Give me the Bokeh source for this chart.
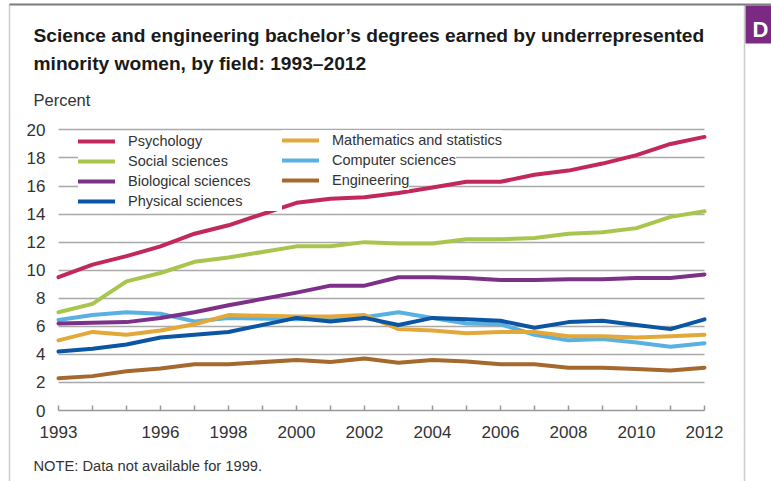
from bokeh.plotting import figure
from bokeh.models import Range1d, FixedTicker, Legend, LegendItem, Label, BoxAnnotation
from bokeh.embed import file_html
from bokeh.resources import INLINE

# ---------------- data ----------------
years = [1993, 1994, 1995, 1996, 1997, 1998,
         2000, 2001, 2002, 2003, 2004, 2005, 2006, 2007, 2008, 2009, 2010, 2011, 2012]
psychology = [9.5, 10.4, 11.0, 11.7, 12.6, 13.2,
              14.8, 15.1, 15.2, 15.5, 15.9, 16.3, 16.3, 16.8, 17.1, 17.6, 18.2, 19.0, 19.5]
social_sciences = [7.0, 7.6, 9.2, 9.8, 10.6, 10.9,
                   11.7, 11.7, 12.0, 11.9, 11.9, 12.2, 12.2, 12.3, 12.6, 12.7, 13.0, 13.8, 14.2]
biological_sciences = [6.2, 6.25, 6.3, 6.6, 7.0, 7.5,
                       8.4, 8.9, 8.9, 9.5, 9.5, 9.45, 9.3, 9.3, 9.35, 9.35, 9.45, 9.45, 9.7]
physical_sciences = [4.2, 4.4, 4.7, 5.2, 5.4, 5.6,
                     6.6, 6.35, 6.6, 6.1, 6.6, 6.5, 6.4, 5.9, 6.3, 6.4, 6.1, 5.8, 6.5]
math_statistics = [5.0, 5.6, 5.4, 5.7, 6.15, 6.8,
                   6.7, 6.7, 6.8, 5.8, 5.7, 5.5, 5.6, 5.6, 5.3, 5.3, 5.2, 5.3, 5.4]
computer_sciences = [6.45, 6.8, 7.0, 6.9, 6.35, 6.6,
                     6.5, 6.6, 6.65, 7.0, 6.6, 6.2, 6.15, 5.4, 5.0, 5.1, 4.85, 4.55, 4.8]
engineering = [2.3, 2.45, 2.8, 3.0, 3.3, 3.3,
               3.6, 3.45, 3.7, 3.4, 3.6, 3.5, 3.3, 3.3, 3.05, 3.05, 2.95, 2.85, 3.05]

tick_years = list(range(1993, 2013))
labeled_years = [1993, 1996, 1998, 2000, 2002, 2004, 2006, 2008, 2010, 2012]
y_ticks = [0, 2, 4, 6, 8, 10, 12, 14, 16, 18, 20]

title_lines = ["Science and engineering bachelor\u2019s degrees earned by underrepresented",
               "minority women, by field: 1993\u20132012"]
y_title = "Percent"
note = "NOTE: Data not available for 1999."
tab_letter = "D"

series = [
    ("Psychology", psychology, "#c3285a"),
    ("Social sciences", social_sciences, "#a8c64e"),
    ("Biological sciences", biological_sciences, "#7d3088"),
    ("Physical sciences", physical_sciences, "#0b56a4"),
    ("Mathematics and statistics", math_statistics, "#e2a83a"),
    ("Computer sciences", computer_sciences, "#58b1e2"),
    ("Engineering", engineering, "#a5692e"),
]

FONT = "Liberation Sans"

# ---------------- layout constants (pixels) ----------------
W, H = 771, 481
X0_PX, PX_PER_YEAR = 58, 34.0      # where 1993 sits, pixels per year
Y0_PX, PX_PER_UNIT = 410, 14.03    # where 0 % sits, pixels per percent

x_range = Range1d(tick_years[0] - X0_PX / PX_PER_YEAR,
                  tick_years[0] + (W - X0_PX) / PX_PER_YEAR)
y_range = Range1d(-(H - Y0_PX) / PX_PER_UNIT, Y0_PX / PX_PER_UNIT)

p = figure(width=W, height=H, x_range=x_range, y_range=y_range,
           output_backend="svg", toolbar_location=None,
           min_border_left=0, min_border_right=0, min_border_top=0, min_border_bottom=0)
p.outline_line_color = None
p.background_fill_color = "white"
p.border_fill_color = "white"


def fx(px):
    return px


def fy(py):
    return H - py


# grid
p.xgrid.visible = False
p.ygrid.ticker = FixedTicker(ticks=y_ticks[1:])
p.ygrid.grid_line_color = "#a9a9a9"
p.ygrid.grid_line_width = 1.5
if "cross_bounds" in p.ygrid.properties():
    p.ygrid.cross_bounds = (tick_years[0], tick_years[-1])

# axes
xa = p.xaxis[0]
xa.fixed_location = 0
xa.bounds = (tick_years[0], tick_years[-1])
xa.ticker = FixedTicker(ticks=tick_years)
xa.major_label_overrides = {yv: (str(yv) if yv in labeled_years else "") for yv in tick_years}
xa.axis_line_color = "#999999"
xa.axis_line_width = 1.5
xa.major_tick_line_color = "#999999"
xa.major_tick_line_width = 1.5
xa.major_tick_in = 5
xa.major_tick_out = 0
xa.minor_tick_line_color = None
xa.major_label_text_font = FONT
xa.major_label_text_font_size = "17px"
xa.major_label_text_color = "#333333"
xa.major_label_standoff = 15

ya = p.yaxis[0]
ya.fixed_location = tick_years[0]
ya.ticker = FixedTicker(ticks=y_ticks)
ya.axis_line_color = None
ya.major_tick_line_color = None
ya.minor_tick_line_color = None
ya.major_label_text_font = FONT
ya.major_label_text_font_size = "17px"
ya.major_label_text_color = "#333333"
ya.major_label_standoff = 7

# lines (drawn bottom -> top)
renderers = {}
for name, vals, color in reversed(series):
    r = p.line(years, vals, line_color=color, line_width=4, line_cap="round", line_join="round")
    renderers[name] = r

# legends
common = dict(padding=0, margin=0, spacing=0, label_height=20, glyph_height=20,
              glyph_width=37, label_standoff=13,
              label_text_font=FONT, label_text_font_size="14.5px", label_text_color="#333333",
              background_fill_color="white", background_fill_alpha=1.0,
              border_line_color=None, level="underlay")
col1 = [s[0] for s in series[:4]]
leg1 = Legend(items=[LegendItem(label=n, renderers=[renderers[n]]) for n in col1],
              location=(fx(78), fy(211)), label_width=154, **common)
p.add_layout(leg1)
col2 = [s[0] for s in series[4:]]
col2_bottoms = [150.3, 170.0, 189.7]
for n, b in zip(col2, col2_bottoms):
    lg = Legend(items=[LegendItem(label=n, renderers=[renderers[n]])],
                location=(fx(282), fy(b)), label_width=10, **common)
    p.add_layout(lg)

# texts
for line, base in zip(title_lines, [35.3, 62.5]):
    p.add_layout(Label(x=fx(33), y=fy(base), x_units="screen", y_units="screen", text=line,
                       text_font=FONT, text_font_style="bold", text_font_size="19.2px",
                       text_color="#1a1a1a", text_baseline="alphabetic", text_align="left"))
p.add_layout(Label(x=fx(33), y=fy(99.0), x_units="screen", y_units="screen", text=y_title,
                   text_font=FONT, text_font_size="16.5px", text_color="#333333",
                   text_baseline="alphabetic", text_align="left"))
p.add_layout(Label(x=fx(33), y=fy(465.0), x_units="screen", y_units="screen", text=note,
                   text_font=FONT, text_font_size="14.7px", text_color="#333333",
                   text_baseline="alphabetic", text_align="left"))

# panel border, top rule and neighbouring tab
p.add_layout(BoxAnnotation(left=fx(9), right=fx(744), top=fy(4), bottom=fy(540),
                           left_units="screen", right_units="screen",
                           top_units="screen", bottom_units="screen",
                           fill_alpha=0, line_color="#555555", line_width=1.5))
p.add_layout(BoxAnnotation(left=fx(9), right=fx(790), top=fy(3), bottom=fy(5),
                           left_units="screen", right_units="screen",
                           top_units="screen", bottom_units="screen",
                           fill_color="#808080", fill_alpha=1, line_color=None))
p.add_layout(BoxAnnotation(left=fx(745), right=fx(790), top=fy(5), bottom=fy(43),
                           left_units="screen", right_units="screen",
                           top_units="screen", bottom_units="screen",
                           fill_color="#7a2a82", fill_alpha=1, line_color=None))
p.add_layout(Label(x=fx(752), y=fy(28.5), x_units="screen", y_units="screen", text=tab_letter,
                   text_font=FONT, text_font_style="bold", text_font_size="22px",
                   text_color="white", text_baseline="alphabetic", text_align="left"))

open("out.html", "w").write(file_html(p, INLINE))
